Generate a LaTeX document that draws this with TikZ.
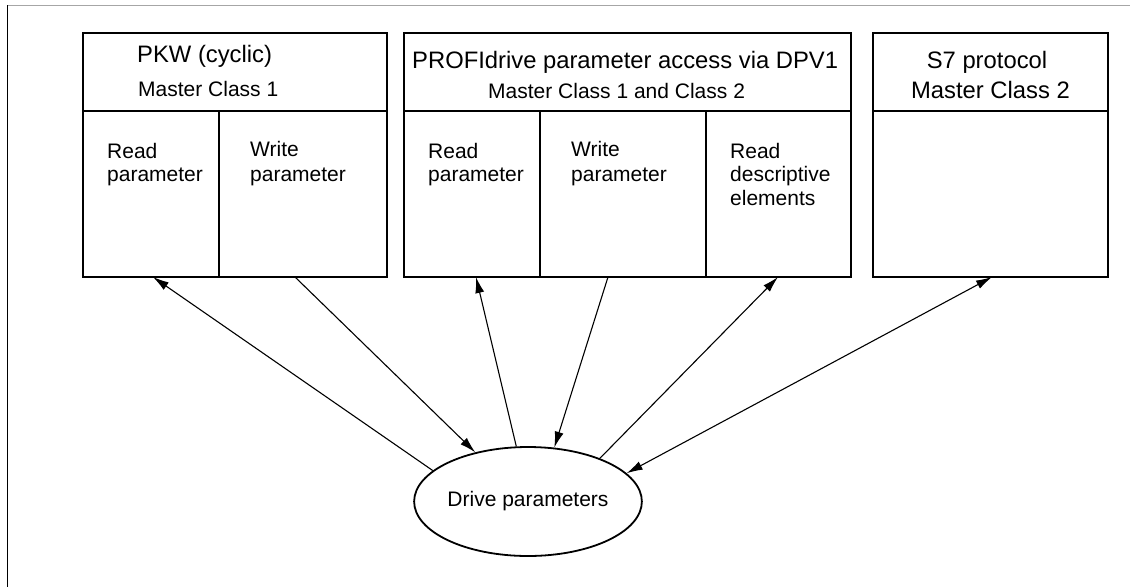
\documentclass[tikz,border=0pt]{standalone}
\usepackage{fontspec}
\setmainfont{Liberation Sans}
\usetikzlibrary{shapes.geometric,arrows.meta}
\begin{document}
\begin{tikzpicture}[x=1pt,y=-1pt,
  cell/.style={draw,line width=1.8pt,rectangle,anchor=north west,inner sep=0pt,outer sep=0pt},
  ttl/.style={inner sep=0pt,font=\fontsize{23.8}{26}\selectfont},
  sub/.style={inner sep=0pt,font=\fontsize{21}{24}\selectfont},
  body/.style={inner sep=0pt,anchor=base west,font=\fontsize{21}{24}\selectfont},
  arr/.style={line width=1.1pt,-{Latex[length=16pt,width=9pt]}},
  darr/.style={line width=1.1pt,{Latex[length=16pt,width=9pt]}-{Latex[length=16pt,width=9pt]}}]
\useasboundingbox (0,0) rectangle (1130,587);
% frame
\draw[gray!70,line width=1pt] (7,5) -- (1130,5);
\draw[line width=1.5pt] (7.5,5) -- (7.5,587);
% box 1
\node[cell,minimum width=304pt,minimum height=78pt] (h1) at (83,33) {};
\node[cell,minimum width=136pt,minimum height=166pt] (c11) at (83,111) {};
\node[cell,minimum width=168pt,minimum height=166pt] (c12) at (219,111) {};
% box 2
\node[cell,minimum width=447pt,minimum height=78pt] (h2) at (404,33) {};
\node[cell,minimum width=136pt,minimum height=166pt] (c21) at (404,111) {};
\node[cell,minimum width=166pt,minimum height=166pt] (c22) at (540,111) {};
\node[cell,minimum width=145pt,minimum height=166pt] (c23) at (706,111) {};
% box 3
\node[cell,minimum width=235pt,minimum height=78pt] (h3) at (873,33) {};
\node[cell,minimum width=235pt,minimum height=166pt] (c31) at (873,111) {};
% header texts
\node[ttl,anchor=base west] (t1) at (137,62) {PKW (cyclic)};
\node[sub,anchor=base west] (s1) at (138,96.5) {Master Class 1};
\node[ttl,anchor=base west] (t2) at (412,68) {PROFIdrive parameter access via DPV1};
\node[sub,anchor=base west] (s2) at (488,98) {Master Class 1 and Class 2};
\node[ttl,anchor=base] (t3) at (987,68) {S7 protocol};
\node[ttl,anchor=base] (s3) at (990.5,98) {Master Class 2};
% cell texts
\node[body] (r1a) at (107,158) {Read};
\node[body] (r1b) at (107,181) {parameter};
\node[body] (w1a) at (250,156) {Write};
\node[body] (w1b) at (250,181) {parameter};
\node[body] (r2a) at (428,158) {Read};
\node[body] (r2b) at (428,181) {parameter};
\node[body] (w2a) at (571,156) {Write};
\node[body] (w2b) at (571,181) {parameter};
\node[body] (d2a) at (730,158) {Read};
\node[body] (d2b) at (730,181.5) {descriptive};
\node[body] (d2c) at (730,205) {elements};
% ellipse
\node[ellipse,draw,line width=1.8pt,minimum width=206pt,minimum height=109pt,inner sep=0pt,
      font=\fontsize{21}{24}\selectfont] (dp) at (528,501.5) {Drive parameters};
% connector points on box bottoms
\coordinate (p1) at (153,277);
\coordinate (p2) at (295,277);
\coordinate (p3) at (476,277);
\coordinate (p4) at (608,277);
\coordinate (p5) at (778,277);
\coordinate (p6) at (992,277);
% connectors
\draw[arr] (dp.162.4) -- (p1);
\draw[arr] (p2) -- (dp.137.6);
\draw[arr] (dp.102.4) -- (p3);
\draw[arr] (p4) -- (dp.64.6);
\draw[arr] (dp.31) -- (p5);
\draw[darr] (dp.16.6) -- (p6);
\end{tikzpicture}
\end{document}
